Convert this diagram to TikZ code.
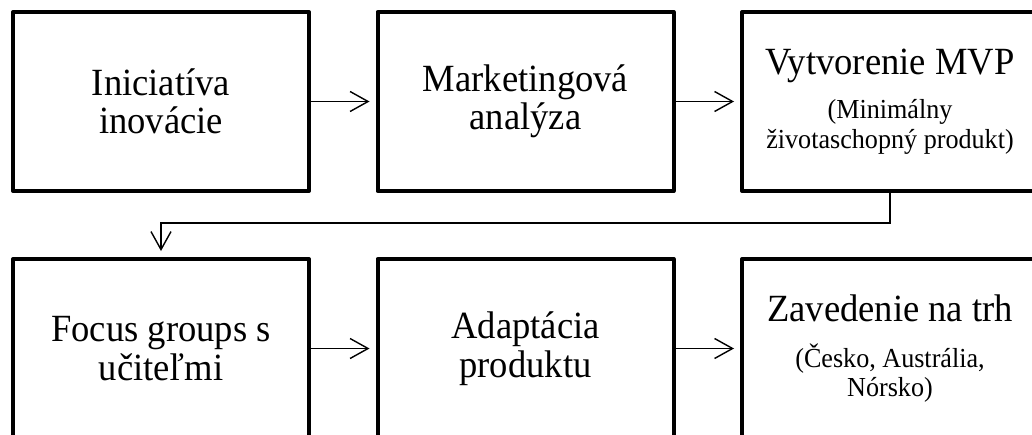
\documentclass[tikz,border=0pt]{standalone}
\usepackage{fontspec}
\setmainfont{Liberation Serif}[FakeStretch=0.95]
\usetikzlibrary{arrows.meta}
\newcommand\mainfs{\fontsize{38.5}{38.5}\selectfont}
\newcommand\subfs{\fontsize{27.5}{30}\selectfont}
\begin{document}
\begin{tikzpicture}[x=1pt,y=-1pt,
  stage/.style={draw, line width=4pt, line join=round, minimum width=296pt,
    minimum height=179pt, inner sep=0pt, align=center, font=\mainfs},
  flow/.style={line width=1.4pt,
    -{Straight Barb[length=18pt,width=20pt,line width=1.4pt]}, shorten >=6pt}]
\useasboundingbox (0,0) rectangle (1032,434);
\clip (0,0) rectangle (1032,434);

% top row
\node[stage] (ini) at (161,101.5) {Iniciatíva\\inovácie};
\node[stage] (mkt) at (525.5,101.5) {Marketingová\\analýza};
\node[stage] (mvp) at (890,101.5)
  {Vytvorenie MVP\\[5pt]\subfs (Minimálny\\[-8.5pt]\subfs životaschopný produkt)};

% bottom row
\node[stage] (fg)  at (161,348.5) {Focus groups s\\učiteľmi};
\node[stage] (ada) at (525.5,348.5) {Adaptácia\\produktu};
\node[stage] (trh) at (890,348.5)
  {Zavedenie na trh\\[8pt]\subfs (Česko, Austrália,\\[-9.5pt]\subfs Nórsko)};

% connectors
\draw[flow] (ini) -- (mkt);
\draw[flow] (mkt) -- (mvp);
\draw[flow] (mvp.south) -- ++(0,30) -| (fg.north);
\draw[flow] (fg) -- (ada);
\draw[flow] (ada) -- (trh);
\end{tikzpicture}
\end{document}
